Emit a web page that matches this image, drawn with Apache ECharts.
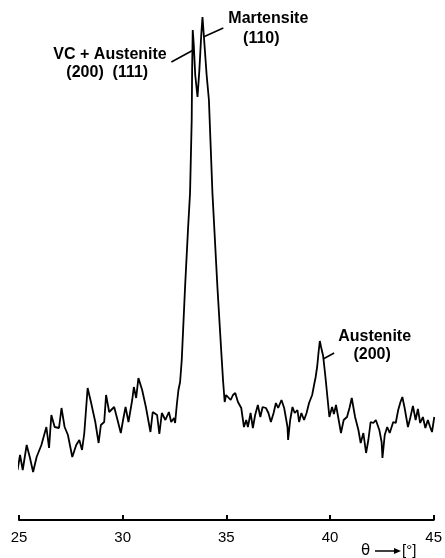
<!DOCTYPE html>
<html>
<head>
<meta charset="utf-8">
<script src="https://cdn.jsdelivr.net/npm/echarts@6/dist/echarts.min.js"></script>
<style>
  html, body { margin: 0; padding: 0; background: #fff; }
  #chart { width: 445px; height: 558px; }
</style>
</head>
<body>
<div id="chart"></div>
<script>
// Diffraction angle theta in degrees
const theta = [
  24.93, 25.05, 25.18, 25.37, 25.53, 25.68, 25.85, 26.08, 26.24, 26.32,
  26.45, 26.56, 26.72, 26.93, 27.05, 27.20, 27.36, 27.57, 27.76, 27.91,
  28.04, 28.15, 28.31, 28.47, 28.68, 28.84, 28.95, 29.11, 29.20, 29.35,
  29.59, 29.74, 29.91, 30.02, 30.14, 30.28, 30.46, 30.54, 30.65, 30.76,
  30.94, 31.12, 31.34, 31.45, 31.66, 31.77, 31.89, 32.06, 32.23, 32.34,
  32.48, 32.53, 32.61, 32.69, 32.77, 32.85, 33.01, 33.15, 33.25, 33.33,
  33.35, 33.38, 33.43, 33.50, 33.61, 33.70, 33.79, 33.85, 33.93, 34.05,
  34.16, 34.33, 34.57, 34.76, 34.84, 34.92, 34.99, 35.08, 35.21, 35.32,
  35.43, 35.56, 35.72, 35.85, 35.96, 36.04, 36.17, 36.28, 36.39, 36.52,
  36.64, 36.75, 36.91, 37.03, 37.15, 37.28, 37.39, 37.50, 37.66, 37.79,
  37.95, 37.98, 38.08, 38.19, 38.30, 38.43, 38.51, 38.62, 38.75, 38.87,
  38.99, 39.14, 39.25, 39.30, 39.38, 39.45, 39.51, 39.57, 39.67, 39.78,
  39.89, 39.97, 40.10, 40.19, 40.29, 40.42, 40.53, 40.66, 40.82, 40.94,
  41.05, 41.21, 41.37, 41.48, 41.61, 41.74, 41.85, 41.96, 42.09, 42.21,
  42.38, 42.49, 42.53, 42.64, 42.76, 42.88, 43.05, 43.17, 43.29, 43.40,
  43.49, 43.60, 43.76, 43.87, 44.00, 44.13, 44.24, 44.35, 44.48, 44.60,
  44.72, 44.83, 44.92, 45.03
];

// Measured intensity (arbitrary units)
const intensity = [
   50,  65,  50,  75,  62,  48,  63,  75,  87,  93,
   72, 105,  93,  92, 112,  93,  85,  63,  75,  80,
   70,  87, 132, 118,  98,  77,  95,  98, 125, 108,
  113, 101,  87, 100, 113,  98, 120, 133, 122, 142,
  130, 113,  88, 108, 105,  86, 107, 100, 108,  98,
  102,  97, 115, 130, 138, 160, 233, 290, 327, 400,
  450, 490, 475, 445, 423, 450, 485, 503, 480, 445,
  420, 327, 233, 167, 140, 118, 125, 127, 120, 125,
  127, 118, 112,  93, 100,  93, 107,  92, 105, 115,
  103, 113, 112, 107,  98, 107, 117, 112, 120, 112,
   93,  80, 100, 113, 107, 110,  98, 107, 100, 107,
  117, 125, 137, 142, 153, 168, 179, 173, 164, 143,
  120, 103, 113, 106, 115, 100,  87, 100, 103, 112,
  122, 103,  90,  77,  87,  67,  80,  98,  97, 100,
   90,  78,  62,  85,  93,  87,  98,  97, 110, 118,
  123, 112,  93, 102, 114, 100, 111,  97, 103,  92,
  100,  93,  88, 103
];

// Axis ticks
const tickMin = 25;
const tickMax = 45;
const tickStep = 5;

// Peak annotations: text lines and the point on the curve the leader touches
const peakLabels = [
  { lines: ['VC + Austenite', '(200)  (111)'], at: [33.41, 470] },
  { lines: ['Martensite', '(110)'], at: [33.89, 483] },
  { lines: ['Austenite', '(200)'], at: [39.67, 161] }
];

const series = theta.map((t, i) => [t, intensity[i]]);

const chart = echarts.init(document.getElementById('chart'), null, { renderer: 'canvas' });

const labelFont = 'bold 16px "Liberation Sans", Arial, sans-serif';

chart.setOption({
  animation: false,
  backgroundColor: '#ffffff',
  grid: { left: 19, right: 7.3, top: 0, bottom: 38 },
  xAxis: {
    type: 'value',
    min: tickMin,
    max: tickMax,
    interval: tickStep,
    axisLine: { show: true, lineStyle: { color: '#000', width: 2 } },
    axisTick: { show: true, inside: true, length: 5, lineStyle: { color: '#000', width: 2 } },
    axisLabel: {
      color: '#000',
      fontSize: 15,
      fontFamily: '"Liberation Sans Narrow", "Liberation Sans", sans-serif',
      margin: 10,
      showMinLabel: true,
      showMaxLabel: true
    },
    splitLine: { show: false }
  },
  yAxis: {
    type: 'value',
    min: 0,
    max: 520,
    show: false,
    splitLine: { show: false }
  },
  series: [{
    type: 'line',
    data: series,
    showSymbol: false,
    clip: false,
    lineStyle: { color: '#000', width: 1.8 }
  }]
});

// Leader lines and peak labels, anchored to data coordinates
function px(pt) { return chart.convertToPixel({ gridIndex: 0 }, pt); }

const a0 = px(peakLabels[0].at);
const a1 = px(peakLabels[1].at);
const a2 = px(peakLabels[2].at);

const lineStyle = { stroke: '#000', lineWidth: 1.5 };

const graphics = [
  // VC + Austenite
  { type: 'line', shape: { x1: a0[0] - 22, y1: a0[1] + 12, x2: a0[0], y2: a0[1] }, style: lineStyle },
  { type: 'text', x: a0[0] - 140, y: a0[1] + 5,
    style: { text: peakLabels[0].lines[0], font: labelFont, fill: '#000', textVerticalAlign: 'middle' } },
  { type: 'text', x: a0[0] - 127, y: a0[1] + 23,
    style: { text: peakLabels[0].lines[1], font: labelFont, fill: '#000', textVerticalAlign: 'middle' } },
  // Martensite
  { type: 'line', shape: { x1: a1[0], y1: a1[1], x2: a1[0] + 20, y2: a1[1] - 9 }, style: lineStyle },
  { type: 'text', x: a1[0] + 25, y: a1[1] - 18,
    style: { text: peakLabels[1].lines[0], font: labelFont, fill: '#000', textVerticalAlign: 'middle' } },
  { type: 'text', x: a1[0] + 58, y: a1[1] + 2,
    style: { text: peakLabels[1].lines[1], font: labelFont, fill: '#000', textVerticalAlign: 'middle', textAlign: 'center' } },
  // Austenite
  { type: 'line', shape: { x1: a2[0], y1: a2[1], x2: a2[0] + 11, y2: a2[1] - 6 }, style: lineStyle },
  { type: 'text', x: a2[0] + 15, y: a2[1] - 22,
    style: { text: peakLabels[2].lines[0], font: labelFont, fill: '#000', textVerticalAlign: 'middle' } },
  { type: 'text', x: a2[0] + 49, y: a2[1] - 4,
    style: { text: peakLabels[2].lines[1], font: labelFont, fill: '#000', textVerticalAlign: 'middle', textAlign: 'center' } },
  // Axis title: theta -> [deg]
  { type: 'text', x: 361, y: 551,
    style: { text: 'θ', font: '15px "DejaVu Sans", sans-serif', fill: '#000', textVerticalAlign: 'middle' } },
  { type: 'line', shape: { x1: 375, y1: 551, x2: 395, y2: 551 }, style: { stroke: '#000', lineWidth: 1.5 } },
  { type: 'polygon', shape: { points: [[394, 548], [401, 551], [394, 554]] }, style: { fill: '#000' } },
  { type: 'text', x: 402, y: 551,
    style: { text: '[°]', font: '15px "Liberation Sans", sans-serif', fill: '#000', textVerticalAlign: 'middle' } }
];

chart.setOption({ graphic: graphics });
</script>
</body>
</html>
